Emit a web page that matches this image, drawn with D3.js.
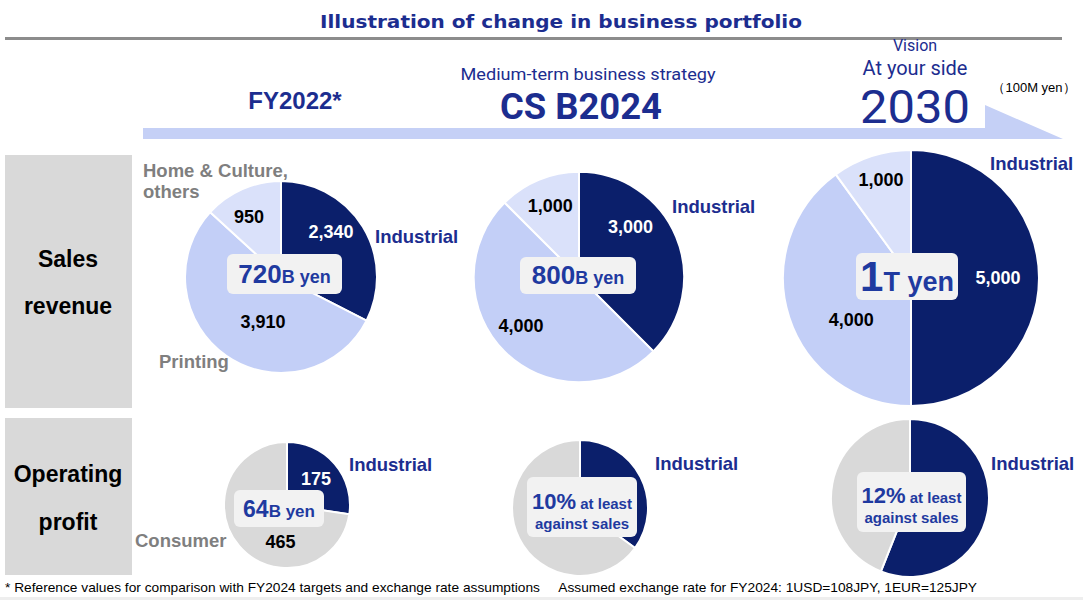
<!DOCTYPE html>
<html>
<head>
<meta charset="utf-8">
<script src="https://cdn.jsdelivr.net/npm/d3@7"></script>
<style>
  body { margin: 0; background: #fff; }
  svg { display: block; font-family: "Liberation Sans", Arial, sans-serif; }
</style>
</head>
<body>
<div id="wrapper"></div>
<script>
// DATA (100M yen)
const salesCategories = ["Industrial", "Printing", "Home & Culture, others"]
const salesFY2022 = [2340, 3910, 950]
const salesCSB2024 = [3000, 4000, 1000]
const sales2030 = [5000, 4000, 1000]

const profitCategories = ["Industrial", "Consumer"]
const profitFY2022 = [175, 465]
// shares (%)
const profitCSB2024 = [35, 65]
const profit2030 = [56, 44]

const periodLabels = ["FY2022*", "CS B2024", "2030"]
const centerSales = [["720", "B yen"], ["800", "B yen"], ["1", "T yen"]]
const centerProfit = [["64", "B yen"], ["10%", " at least", "against sales"], ["12%", " at least", "against sales"]]

async function drawChart() {
  const width = 1083, height = 600
  const navy = "#1c2d8f"
  const boxBlue = "#1f3aa0"
  const grayText = "#7f7f7f"
  const roboto = "Roboto, 'Liberation Sans', sans-serif"

  const salesColor = d3.scaleOrdinal().domain(salesCategories).range(["#0b1f6b", "#c3cff7", "#dae1fa"])
  const profitColor = d3.scaleOrdinal().domain(profitCategories).range(["#0b1f6b", "#d9d9d9"])

  // radius scale for sales pies by total
  const salesRadius = d3.scaleLinear().domain([7200, 10000]).range([96, 128])

  const svg = d3.select("#wrapper").append("svg")
    .attr("width", width).attr("height", height)

  // TITLE
  svg.append("text")
    .attr("x", 561).attr("y", 28)
    .attr("text-anchor", "middle")
    .attr("font-family", "'DejaVu Sans', Verdana, sans-serif")
    .attr("font-size", 17).attr("font-weight", "bold")
    .attr("textLength", 482).attr("lengthAdjust", "spacingAndGlyphs")
    .attr("fill", navy)
    .text("Illustration of change in business portfolio")
  svg.append("rect").attr("x", 5).attr("y", 37).attr("width", 1057).attr("height", 3).attr("fill", "#8c8c8c")

  // ARROW
  svg.append("path")
    .attr("d", "M143,128 L985,128 L985,105 L1063,139 L143,139 Z")
    .attr("fill", "#c5d0f6")

  // period headings
  svg.append("text").attr("x", 295).attr("y", 109).attr("text-anchor", "middle")
    .attr("font-size", 24).attr("font-weight", "bold").attr("fill", navy).text(periodLabels[0])
  svg.append("text").attr("x", 588).attr("y", 80).attr("text-anchor", "middle")
    .attr("font-family", roboto).attr("textLength", 255).attr("lengthAdjust", "spacingAndGlyphs")
    .attr("font-size", 17).attr("fill", navy).text("Medium-term business strategy")
  svg.append("text").attr("x", 581).attr("y", 119).attr("text-anchor", "middle")
    .attr("font-family", roboto).attr("textLength", 162).attr("lengthAdjust", "spacingAndGlyphs")
    .attr("font-size", 36).attr("font-weight", "bold").attr("fill", navy).text(periodLabels[1])
  svg.append("text").attr("x", 915).attr("y", 51).attr("text-anchor", "middle")
    .attr("font-family", roboto)
    .attr("font-size", 16).attr("fill", navy).text("Vision")
  svg.append("text").attr("x", 915).attr("y", 75).attr("text-anchor", "middle")
    .attr("font-family", roboto)
    .attr("font-size", 20).attr("fill", navy).text("At your side")
  svg.append("text").attr("x", 915).attr("y", 123).attr("text-anchor", "middle")
    .attr("font-family", roboto).attr("textLength", 110).attr("lengthAdjust", "spacingAndGlyphs")
    .attr("font-size", 46).attr("fill", navy).text(periodLabels[2])
  svg.append("text").attr("x", 1034).attr("y", 92).attr("text-anchor", "middle")
    .attr("font-size", 13).attr("fill", "#000").text("\uFF08100M yen\uFF09")

  // ROW HEADERS
  const rows = [
    { y: 155, h: 253, lines: ["Sales", "revenue"], ys: [267, 314] },
    { y: 418, h: 157, lines: ["Operating", "profit"], ys: [482, 530] }
  ]
  rows.forEach(r => {
    svg.append("rect").attr("x", 5).attr("y", r.y).attr("width", 127).attr("height", r.h).attr("fill", "#d9d9d9")
    r.lines.forEach((t, i) => {
      svg.append("text").attr("x", 68).attr("y", r.ys[i]).attr("text-anchor", "middle")
        .attr("font-size", 23).attr("font-weight", "bold").attr("fill", "#000").text(t)
    })
  })

  // PIE HELPERS
  const pie = d3.pie().sort(null).value(d => d.value)

  function drawPie(cfg) {
    const g = svg.append("g").attr("transform", `translate(${cfg.cx},${cfg.cy})`)
    const data = cfg.categories.map((c, i) => ({ cat: c, value: cfg.values[i] }))
    const arcs = pie(data)
    const arc = d3.arc().innerRadius(0).outerRadius(cfg.r)
    g.selectAll("path").data(arcs).join("path")
      .attr("d", arc)
      .attr("fill", d => cfg.color(d.data.cat))
      .attr("stroke", "#fff").attr("stroke-width", 2)

    // value labels
    if (cfg.valueLabels) {
      arcs.forEach((a, i) => {
        const spec = cfg.valueLabels[i]
        const ang = spec[0] * Math.PI / 180
        const rr = spec[1] * cfg.r
        g.append("text")
          .attr("x", Math.sin(ang) * rr).attr("y", -Math.cos(ang) * rr)
          .attr("text-anchor", "middle").attr("dominant-baseline", "central")
          .attr("font-size", cfg.valueSize || 18).attr("font-weight", "bold")
          .attr("fill", a.data.cat === "Industrial" ? "#fff" : "#000")
          .text(d3.format(",")(a.data.value))
      })
    }

    // center box
    const b = cfg.box
    svg.append("rect").attr("x", b.x).attr("y", b.y).attr("width", b.w).attr("height", b.h)
      .attr("rx", 6).attr("fill", "#f2f2f2")
    const parts = cfg.center
    const t = svg.append("text").attr("x", b.x + b.w / 2).attr("y", b.base)
      .attr("text-anchor", "middle").attr("font-weight", "bold").attr("fill", boxBlue)
    t.append("tspan").attr("font-size", b.big).text(parts[0])
    t.append("tspan").attr("font-size", b.small).text(parts[1])
    if (parts[2]) {
      svg.append("text").attr("x", b.x + b.w / 2).attr("y", b.base2)
        .attr("text-anchor", "middle").attr("font-weight", "bold").attr("fill", boxBlue)
        .attr("font-size", b.small).text(parts[2])
    }

    // category labels
    cfg.catLabels.forEach(l => {
      l.lines.forEach((line, i) => {
        svg.append("text").attr("x", l.x).attr("y", l.y + i * 21)
          .attr("text-anchor", l.anchor || "start")
          .attr("font-size", 18.5).attr("font-weight", "bold").attr("fill", l.color)
          .text(line)
      })
    })
  }

  const salesSets = [salesFY2022, salesCSB2024, sales2030]
  const salesLayout = [
    { cx: 281, cy: 277,
      valueLabels: [[48, 0.7], [202, 0.5], [332, 0.71]],
      box: { x: 227, y: 254, w: 115, h: 40, base: 283, big: 26, small: 18 },
      catLabels: [
        { x: 375, y: 243, lines: ["Industrial"], color: navy },
        { x: 143, y: 177, lines: ["Home & Culture,", "others"], color: grayText },
        { x: 159, y: 368, lines: ["Printing"], color: grayText }
      ] },
    { cx: 579, cy: 277,
      valueLabels: [[46, 0.68], [230, 0.72], [338, 0.73]],
      box: { x: 520, y: 257, w: 116, h: 37, base: 284, big: 26, small: 18 },
      catLabels: [{ x: 672, y: 213, lines: ["Industrial"], color: navy }] },
    { cx: 911, cy: 278,
      valueLabels: [[90, 0.68], [235, 0.57], [343, 0.8]],
      box: { x: 856, y: 253, w: 102, h: 47, base: 291, big: 42, small: 27 },
      catLabels: [{ x: 990, y: 170, lines: ["Industrial"], color: navy }] }
  ]
  salesSets.forEach((vals, i) => {
    const L = salesLayout[i]
    drawPie({
      cx: L.cx, cy: L.cy, r: salesRadius(d3.sum(vals)),
      categories: salesCategories, values: vals, color: salesColor,
      valueLabels: L.valueLabels, box: L.box, center: centerSales[i], catLabels: L.catLabels
    })
  })

  const profitSets = [profitFY2022, profitCSB2024, profit2030]
  const profitLayout = [
    { cx: 287, cy: 505, r: 63,
      valueLabels: [[48, 0.62], [190, 0.6]],
      box: { x: 234, y: 490, w: 90, h: 37, base: 517, big: 23, small: 17 },
      catLabels: [
        { x: 349, y: 471, lines: ["Industrial"], color: navy },
        { x: 135, y: 547, lines: ["Consumer"], color: grayText }
      ] },
    { cx: 580, cy: 508, r: 68,
      box: { x: 527, y: 477, w: 110, h: 60, base: 509, base2: 529, big: 22, small: 15 },
      catLabels: [{ x: 655, y: 470, lines: ["Industrial"], color: navy }] },
    { cx: 910, cy: 498, r: 79,
      box: { x: 857, y: 472, w: 109, h: 60, base: 503, base2: 523, big: 22, small: 15 },
      catLabels: [{ x: 991, y: 470, lines: ["Industrial"], color: navy }] }
  ]
  profitSets.forEach((vals, i) => {
    const L = profitLayout[i]
    drawPie({
      cx: L.cx, cy: L.cy, r: L.r,
      categories: profitCategories, values: vals, color: profitColor,
      valueLabels: i === 0 ? L.valueLabels : null, box: L.box, center: centerProfit[i], catLabels: L.catLabels
    })
  })

  // FOOTNOTE
  svg.append("text").attr("x", 5).attr("y", 592).attr("font-size", 13.5).attr("fill", "#000")
    .attr("xml:space", "preserve")
    .attr("textLength", 972).attr("lengthAdjust", "spacingAndGlyphs")
    .text("* Reference values for comparison with FY2024 targets and exchange rate assumptions     Assumed exchange rate for FY2024: 1USD=108JPY, 1EUR=125JPY")
  svg.append("rect").attr("x", 0).attr("y", 597).attr("width", width).attr("height", 3).attr("fill", "#eeeeee")
}
drawChart()
</script>
</body>
</html>
